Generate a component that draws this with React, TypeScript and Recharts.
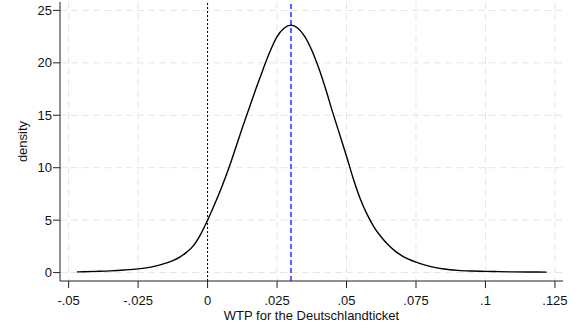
import { LineChart, Line, XAxis, YAxis, CartesianGrid, ReferenceLine } from 'recharts'

// WTP grid (x) and the estimated kernel density
const wtp = [
  -0.047, -0.045, -0.04, -0.035, -0.03, -0.025, -0.02, -0.015, -0.0125, -0.01,
  -0.0075, -0.005, -0.0025, 0, 0.0025, 0.005, 0.0075, 0.01, 0.0125, 0.015, 0.0175,
  0.02, 0.0225, 0.025, 0.0275, 0.03, 0.0325, 0.035, 0.0375, 0.04, 0.0425, 0.045,
  0.0475, 0.05, 0.0525, 0.055, 0.0575, 0.06, 0.0625, 0.065, 0.0675, 0.07, 0.075,
  0.08, 0.085, 0.09, 0.095, 0.1, 0.105, 0.11, 0.115, 0.122,
]
const density = [
  0.07, 0.08, 0.12, 0.17, 0.25, 0.36, 0.55, 0.9, 1.15, 1.48,
  1.95, 2.6, 3.65, 5.0, 6.5, 8.1, 9.85, 11.8, 13.8, 15.7, 17.6,
  19.4, 21.1, 22.5, 23.3, 23.6, 23.3, 22.5, 21.2, 19.5, 17.5, 15.3,
  13.2, 11.1, 8.9, 7.0, 5.5, 4.3, 3.4, 2.65, 2.05, 1.6, 1.0,
  0.6, 0.34, 0.21, 0.15, 0.12, 0.09, 0.07, 0.06, 0.05,
]

const xTicks = [-0.05, -0.025, 0, 0.025, 0.05, 0.075, 0.1, 0.125]
const xTickLabels = ['-.05', '-.025', '0', '.025', '.05', '.075', '.1', '.125']
const yTicks = [0, 5, 10, 15, 20, 25]

const meanWtp = 0.03

const data = wtp.map((x, i) => ({ x, density: density[i] }))

const font = 'Arial, "Liberation Sans", sans-serif'

export default function App() {
  return (
    <div style={{ position: 'absolute', left: 0, top: 0, background: '#fff' }}>
      <LineChart
        width={575}
        height={324}
        data={data}
        margin={{ top: 2, right: 12, bottom: 0, left: 0 }}
        style={{ fontFamily: font }}
      >
        <CartesianGrid stroke="#e6e6e6" strokeDasharray="7 4" verticalValues={xTicks} horizontalValues={yTicks} />
        <XAxis
          dataKey="x"
          type="number"
          domain={[-0.0531, 0.1279]}
          ticks={xTicks}
          tickFormatter={(v: number) => xTickLabels[xTicks.indexOf(v)] ?? String(v)}
          height={43}
          tickSize={7}
          tickMargin={8}
          stroke="#222"
          tick={{ fill: '#111', fontSize: 13 }}
          allowDataOverflow
          label={{ value: 'WTP for the Deutschlandticket', position: 'insideBottom', offset: 4, fill: '#111', fontSize: 13 }}
        />
        <YAxis
          type="number"
          domain={[-0.8, 25.8]}
          ticks={yTicks}
          width={60}
          tickSize={7}
          tickMargin={1}
          stroke="#222"
          tick={{ fill: '#111', fontSize: 13 }}
          allowDataOverflow
          label={{
            content: (props: any) => {
              const vb = props.viewBox || {}
              const cx = (vb.x ?? 0) + 22
              const cy = (vb.y ?? 0) + (vb.height ?? 0) / 2
              return (
                <text
                  x={cx}
                  y={cy}
                  transform={`rotate(-90 ${cx} ${cy})`}
                  textAnchor="middle"
                  dominantBaseline="central"
                  fill="#111"
                  fontSize={13}
                >
                  density
                </text>
              )
            },
          }}
        />
        <ReferenceLine x={0} stroke="#000" strokeDasharray="2 2" strokeWidth={1} />
        <ReferenceLine x={meanWtp} stroke="#5c5cff" strokeDasharray="5 3" strokeWidth={2} />
        <Line
          type="monotone"
          dataKey="density"
          stroke="#000"
          strokeWidth={1.4}
          dot={false}
          isAnimationActive={false}
        />
      </LineChart>
    </div>
  )
}
